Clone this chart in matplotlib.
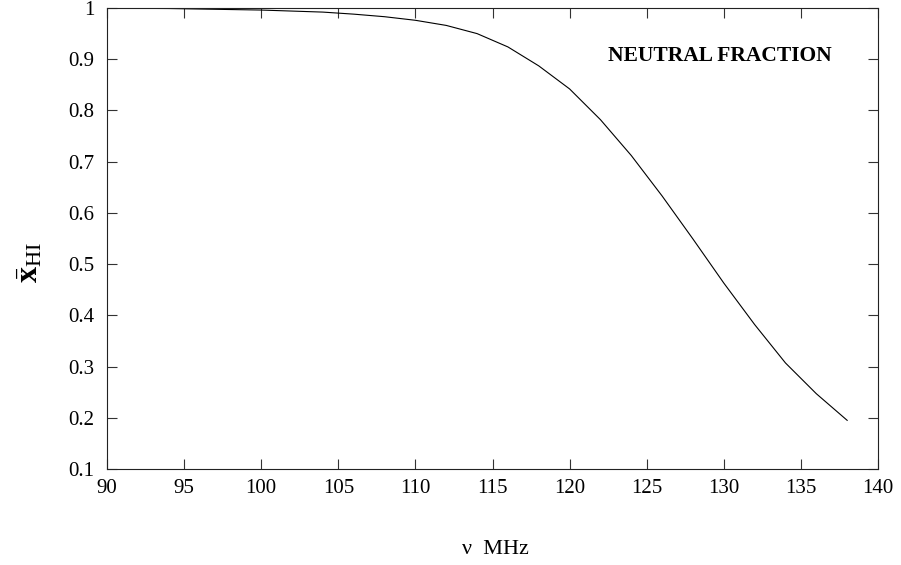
import numpy as np
import matplotlib
matplotlib.use("Agg")
import matplotlib.pyplot as plt

# frequency (MHz) and mean neutral fraction
freq = [90, 92, 94, 96, 98, 100, 102, 104, 106, 108, 110, 112, 114,
        116, 118, 120, 122, 124, 126, 128, 130, 132, 134, 136, 138]
x_hi = [0.9995, 0.9993, 0.999, 0.998, 0.997, 0.996, 0.994, 0.992, 0.988,
        0.983, 0.976, 0.966, 0.950, 0.924, 0.887, 0.842, 0.782, 0.712,
        0.633, 0.549, 0.463, 0.382, 0.307, 0.247, 0.195]

x_ticks = [90, 95, 100, 105, 110, 115, 120, 125, 130, 135, 140]
y_ticks = [0.1, 0.2, 0.3, 0.4, 0.5, 0.6, 0.7, 0.8, 0.9, 1.0]
y_ticklabels = ['0.1', '0.2', '0.3', '0.4', '0.5', '0.6', '0.7', '0.8', '0.9', '1']

plt.rcParams['font.family'] = ['Liberation Serif', 'DejaVu Serif']
plt.rcParams['mathtext.fontset'] = 'custom'
plt.rcParams['mathtext.rm'] = 'Liberation Serif'
plt.rcParams['mathtext.it'] = 'Liberation Serif:italic'
plt.rcParams['mathtext.bf'] = 'Liberation Serif:bold'

fig = plt.figure(figsize=(9.01, 5.65), dpi=100)
ax = fig.add_axes([107 / 901, 1 - 469 / 565, (878 - 107) / 901, (469 - 8) / 565])

ax.plot(freq, x_hi, color='black', lw=0.8)

ax.set_xlim(90, 140)
ax.set_ylim(0.1, 1.0)
ax.set_xticks(x_ticks)
ax.set_yticks(y_ticks)
ax.set_yticklabels(y_ticklabels)
ax.tick_params(direction='in', length=7.5, width=0.8, top=True, right=True,
               labelsize=15, color='#333333')
ax.tick_params(axis='x', pad=7)
ax.tick_params(axis='y', pad=9)
for s in ax.spines.values():
    s.set_linewidth(0.8)
    s.set_color('#222222')

ax.text(0.94, 0.895, 'NEUTRAL FRACTION', transform=ax.transAxes,
        ha='right', va='center', fontsize=15.5, fontweight='bold')

fig.text(495 / 901, 1 - 550 / 565, '\u03bd  MHz', ha='center', va='center', fontsize=16)
fig.text(30 / 901, 1 - 262 / 565, r'$\bar{\mathbf{x}}_{\mathrm{HI}}$', rotation=90,
         ha='center', va='center', fontsize=23)

fig.savefig('out.png', dpi=100)
